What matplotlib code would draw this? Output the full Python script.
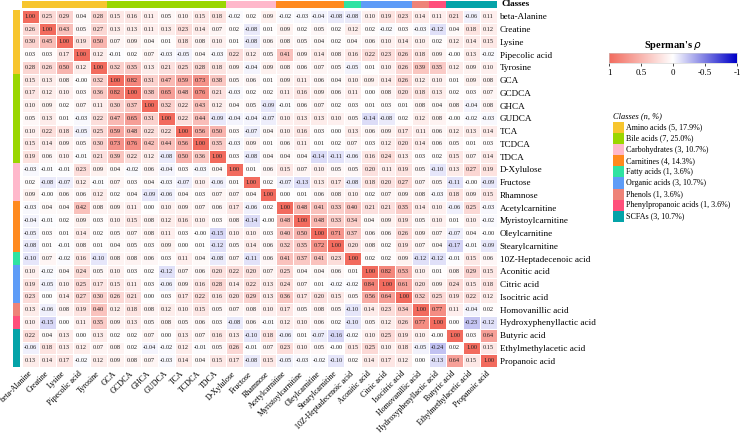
import numpy as np
import matplotlib
matplotlib.use("Agg")
import matplotlib.pyplot as plt
from matplotlib.colors import LinearSegmentedColormap, ListedColormap
from matplotlib.patches import Rectangle
from matplotlib.transforms import ScaledTranslation

plt.rcParams['font.family'] = ['Liberation Serif', 'DejaVu Serif']

names = ["beta-Alanine", "Creatine", "Lysine", "Pipecolic acid", "Tyrosine",
         "GCA", "GCDCA", "GHCA", "GUDCA", "TCA", "TCDCA", "TDCA",
         "D-Xylulose", "Fructose", "Rhamnose",
         "Acetylcarnitine", "Myristoylcarnitine", "Oleylcarnitine", "Stearylcarnitine",
         "10Z-Heptadecenoic acid",
         "Aconitic acid", "Citric acid", "Isocitric acid",
         "Homovanillic acid", "Hydroxyphenyllactic acid",
         "Butyric acid", "Ethylmethylacetic acid", "Propanoic acid"]

classes = ["Amino acids"] * 5 + ["Bile acids"] * 7 + ["Carbohydrates"] * 3 + \
          ["Carnitines"] * 4 + ["Fatty acids"] + ["Organic acids"] * 3 + \
          ["Phenols"] + ["Phenylpropanoic acids"] + ["SCFAs"] * 3

class_names = ["Amino acids", "Bile acids", "Carbohydrates", "Carnitines", "Fatty acids",
               "Organic acids", "Phenols", "Phenylpropanoic acids", "SCFAs"]
class_labels = ["Amino acids (5, 17.9%)", "Bile acids (7, 25.0%)", "Carbohydrates (3, 10.7%)",
                "Carnitines (4, 14.3%)", "Fatty acids (1, 3.6%)", "Organic acids (3, 10.7%)",
                "Phenols (1, 3.6%)", "Phenylpropanoic acids (1, 3.6%)", "SCFAs (3, 10.7%)"]
class_colors = ["#F7C52E", "#9AD600", "#FFB8CB", "#FF8A1F", "#2FE3A2",
                "#5E9CF7", "#EE8378", "#FF4F7B", "#04A3A8"]

r01 = [1.00, 0.25, 0.29, 0.04, 0.28, 0.15, 0.16, 0.11, 0.05, 0.10, 0.15, 0.18, -0.02, 0.02, 0.09, -0.02, -0.03, -0.04, -0.08, -0.08, 0.10, 0.19, 0.23, 0.14, 0.11, 0.21, -0.06, 0.11]
r02 = [0.26, 1.00, 0.43, 0.05, 0.27, 0.13, 0.13, 0.11, 0.13, 0.23, 0.14, 0.07, 0.02, -0.08, 0.01, 0.09, 0.02, 0.05, 0.02, 0.12, 0.02, -0.02, 0.03, -0.03, -0.12, 0.04, 0.18, 0.12]
r03 = [0.30, 0.45, 1.00, 0.19, 0.50, 0.07, 0.09, 0.04, 0.01, 0.18, 0.08, 0.10, 0.01, -0.08, 0.06, 0.08, 0.05, 0.04, 0.02, 0.04, 0.06, 0.10, 0.14, 0.10, 0.02, 0.12, 0.14, 0.15]
r04 = [0.03, 0.03, 0.17, 1.00, 0.12, -0.01, 0.02, 0.07, -0.03, -0.05, 0.04, -0.03, 0.22, 0.12, 0.05, 0.41, 0.09, 0.14, 0.08, 0.16, 0.22, 0.23, 0.26, 0.18, 0.09, -0.00, 0.13, -0.02]
r05 = [0.28, 0.26, 0.50, 0.12, 1.00, 0.32, 0.35, 0.13, 0.21, 0.25, 0.28, 0.18, 0.09, -0.04, 0.09, 0.08, 0.06, 0.07, 0.05, -0.05, 0.01, 0.10, 0.26, 0.39, 0.35, 0.12, 0.09, 0.10]
r06 = [0.15, 0.13, 0.08, -0.00, 0.32, 1.00, 0.82, 0.31, 0.47, 0.59, 0.73, 0.38, 0.05, 0.06, 0.01, 0.09, 0.11, 0.06, 0.04, 0.10, 0.09, 0.14, 0.26, 0.12, 0.10, 0.01, 0.09, 0.08]
r07 = [0.17, 0.12, 0.10, 0.03, 0.36, 0.82, 1.00, 0.38, 0.65, 0.48, 0.76, 0.21, -0.03, 0.02, 0.02, 0.11, 0.16, 0.09, 0.06, 0.11, 0.00, 0.08, 0.20, 0.18, 0.13, 0.02, 0.03, 0.07]
r08 = [0.10, 0.09, 0.02, 0.07, 0.11, 0.30, 0.37, 1.00, 0.32, 0.22, 0.43, 0.12, 0.04, 0.05, -0.09, -0.01, 0.06, 0.07, 0.02, 0.03, 0.01, 0.03, 0.01, 0.08, 0.04, 0.08, -0.04, 0.08]
r09 = [0.05, 0.13, 0.01, -0.03, 0.22, 0.47, 0.65, 0.31, 1.00, 0.22, 0.44, -0.09, -0.04, -0.04, -0.07, 0.10, 0.13, 0.13, 0.10, 0.05, -0.14, -0.08, 0.02, 0.12, 0.08, -0.00, -0.02, -0.03]
r10 = [0.10, 0.22, 0.18, -0.05, 0.25, 0.59, 0.48, 0.22, 0.22, 1.00, 0.56, 0.50, 0.03, -0.07, 0.04, 0.10, 0.16, 0.03, 0.00, 0.13, 0.06, 0.09, 0.17, 0.11, 0.06, 0.12, 0.13, 0.14]
r11 = [0.15, 0.14, 0.09, 0.05, 0.30, 0.73, 0.76, 0.42, 0.44, 0.56, 1.00, 0.35, -0.03, 0.09, 0.01, 0.06, 0.11, 0.01, 0.02, 0.07, 0.03, 0.12, 0.20, 0.14, 0.06, 0.05, 0.01, 0.03]
r12 = [0.19, 0.06, 0.10, -0.01, 0.21, 0.39, 0.22, 0.12, -0.08, 0.50, 0.36, 1.00, 0.03, -0.08, 0.04, 0.04, 0.04, -0.14, -0.11, -0.06, 0.16, 0.24, 0.13, 0.03, 0.02, 0.15, 0.07, 0.14]
r13 = [-0.03, -0.01, -0.01, 0.23, 0.09, 0.04, -0.02, 0.06, -0.04, 0.03, -0.03, 0.04, 1.00, 0.01, 0.06, 0.15, 0.07, 0.10, 0.05, 0.05, 0.20, 0.11, 0.19, 0.05, -0.10, 0.13, 0.27, 0.19]
r14 = [0.02, -0.08, -0.07, 0.12, -0.01, 0.07, 0.03, 0.04, -0.03, -0.07, 0.10, -0.06, 0.01, 1.00, 0.02, -0.07, -0.13, 0.13, 0.17, -0.08, 0.18, 0.20, 0.27, 0.07, 0.05, -0.11, -0.00, -0.09]
r15 = [0.09, -0.00, 0.06, 0.06, 0.12, 0.02, 0.04, -0.09, -0.06, 0.04, 0.03, 0.07, 0.07, 0.04, 1.00, 0.00, 0.01, 0.06, 0.08, 0.10, 0.02, 0.07, 0.09, 0.08, -0.03, 0.18, 0.09, 0.15]
r16 = [-0.03, 0.04, 0.04, 0.42, 0.08, 0.09, 0.11, 0.00, 0.10, 0.09, 0.07, 0.06, 0.17, -0.06, 0.02, 1.00, 0.48, 0.41, 0.33, 0.40, 0.21, 0.21, 0.35, 0.14, 0.10, -0.06, 0.25, -0.03]
r17 = [-0.04, -0.01, 0.02, 0.09, 0.03, 0.10, 0.15, 0.08, 0.12, 0.16, 0.10, 0.03, 0.08, -0.14, -0.00, 0.48, 1.00, 0.48, 0.33, 0.34, 0.04, 0.09, 0.19, 0.05, 0.10, 0.01, 0.10, -0.02]
r18 = [-0.05, 0.03, 0.01, 0.14, 0.02, 0.05, 0.07, 0.08, 0.11, 0.03, -0.00, -0.15, 0.10, 0.10, 0.03, 0.40, 0.50, 1.00, 0.71, 0.37, 0.06, 0.06, 0.26, 0.09, 0.07, -0.07, 0.04, -0.00]
r19 = [-0.08, 0.01, -0.01, 0.08, 0.01, 0.04, 0.05, 0.03, 0.09, 0.00, 0.01, -0.12, 0.05, 0.14, 0.06, 0.32, 0.35, 0.72, 1.00, 0.20, 0.08, 0.02, 0.19, 0.07, 0.04, -0.17, -0.01, -0.09]
r20 = [-0.10, 0.07, -0.02, 0.16, -0.10, 0.08, 0.08, 0.06, 0.03, 0.11, 0.04, -0.08, 0.07, -0.11, 0.06, 0.41, 0.37, 0.41, 0.23, 1.00, 0.02, 0.02, 0.09, -0.12, -0.12, -0.01, 0.15, 0.06]
r21 = [0.10, -0.02, 0.04, 0.24, 0.05, 0.10, 0.03, 0.02, -0.12, 0.07, 0.06, 0.20, 0.22, 0.20, 0.07, 0.25, 0.04, 0.04, 0.06, 0.01, 1.00, 0.82, 0.53, 0.10, 0.01, 0.08, 0.29, 0.15]
r22 = [0.19, -0.05, 0.10, 0.25, 0.17, 0.15, 0.11, 0.03, -0.06, 0.09, 0.16, 0.28, 0.14, 0.22, 0.13, 0.24, 0.07, 0.01, -0.02, -0.02, 0.84, 1.00, 0.61, 0.20, 0.09, 0.24, 0.15, 0.18]
r23 = [0.23, 0.00, 0.14, 0.27, 0.30, 0.26, 0.21, 0.00, 0.03, 0.17, 0.22, 0.16, 0.20, 0.29, 0.13, 0.36, 0.17, 0.20, 0.15, 0.05, 0.56, 0.64, 1.00, 0.32, 0.25, 0.19, 0.22, 0.12]
r24 = [0.13, -0.06, 0.08, 0.19, 0.40, 0.12, 0.18, 0.08, 0.12, 0.10, 0.15, 0.05, 0.07, 0.08, 0.10, 0.17, 0.05, 0.08, 0.05, -0.10, 0.14, 0.23, 0.34, 1.00, 0.77, 0.11, -0.04, 0.02]
r25 = [0.10, -0.15, 0.00, 0.11, 0.35, 0.09, 0.13, 0.05, 0.08, 0.05, 0.06, 0.03, -0.08, 0.06, -0.01, 0.12, 0.10, 0.06, 0.02, -0.10, 0.05, 0.12, 0.26, 0.77, 1.00, 0.00, -0.23, -0.12]
r26 = [0.22, 0.04, 0.13, 0.00, 0.13, 0.02, 0.02, 0.07, 0.00, 0.13, 0.07, 0.16, 0.13, -0.10, 0.18, -0.06, 0.01, -0.07, -0.16, -0.02, 0.10, 0.25, 0.19, 0.10, -0.00, 1.00, 0.03, 0.64]
r27 = [-0.06, 0.18, 0.13, 0.12, 0.07, 0.08, 0.02, -0.04, -0.02, 0.12, -0.01, 0.05, 0.26, -0.01, 0.07, 0.23, 0.10, 0.05, -0.00, 0.15, 0.25, 0.10, 0.18, -0.05, -0.24, 0.02, 1.00, 0.15]
r28 = [0.13, 0.14, 0.17, -0.02, 0.12, 0.09, 0.08, 0.07, -0.03, 0.14, 0.04, 0.15, 0.17, -0.08, 0.15, -0.05, -0.03, -0.02, -0.10, 0.02, 0.14, 0.17, 0.12, 0.00, -0.13, 0.64, 0.15, 1.00]

M = np.array([r01, r02, r03, r04, r05, r06, r07, r08, r09, r10, r11, r12, r13, r14,
              r15, r16, r17, r18, r19, r20, r21, r22, r23, r24, r25, r26, r27, r28])
n = len(names)

cmap = LinearSegmentedColormap.from_list("sp", [(0.0, "#0000C8"), (0.5, "#FFFFFF"), (1.0, "#F26B5E")])

W, H = 740, 436
fig = plt.figure(figsize=(W / 100, H / 100), dpi=100)

def fx(px):
    return px / W

def fy(py):
    return 1 - py / H

hx0, hx1, hy0, hy1 = 22, 497, 10, 367
ax = fig.add_axes([fx(hx0), fy(hy1), fx(hx1 - hx0), (hy1 - hy0) / H])
ax.pcolormesh(np.arange(n + 1), np.arange(n + 1), M, cmap=cmap, vmin=-1, vmax=1,
              edgecolor="white", linewidth=0.6)
ax.set_xlim(0, n)
ax.set_ylim(n, 0)
for i in range(n):
    for j in range(n):
        ax.text(j + 0.5, i + 0.5, f"{M[i, j]:.2f}", ha="center", va="center", fontsize=4.6, color="#222222")
ax.set_xticks(np.arange(n) + 0.5)
ax.set_xticklabels(names, rotation=45, ha="right", va="center", rotation_mode="anchor", fontsize=5.8)
shift = ScaledTranslation(4.5 / 100, 0, fig.dpi_scale_trans)
for lab in ax.get_xticklabels():
    lab.set_transform(lab.get_transform() + shift)
ax.yaxis.tick_right()
ax.set_yticks(np.arange(n) + 0.5)
ax.set_yticklabels(names, fontsize=6.6)
ax.tick_params(axis="y", length=0, pad=2)
ax.tick_params(axis="x", length=0, pad=4.0)
for s in ax.spines.values():
    s.set_visible(False)

cidx = [class_names.index(c) for c in classes]
ccmap = ListedColormap(class_colors)

# top annotation bar
axt = fig.add_axes([fx(hx0), fy(8), fx(hx1 - hx0), 7 / H])
axt.pcolormesh(np.arange(n + 1), [0, 1], np.array([cidx]), cmap=ccmap, vmin=-0.5, vmax=8.5)
axt.set_xlim(0, n)
axt.axis("off")
fig.text(fx(502), fy(4.5), "Classes", fontsize=6.6, fontweight="bold", va="center", ha="left")

# left annotation bar
axl = fig.add_axes([fx(13), fy(hy1), fx(7), (hy1 - hy0) / H])
axl.pcolormesh([0, 1], np.arange(n + 1), np.array([cidx]).T, cmap=ccmap, vmin=-0.5, vmax=8.5)
axl.set_ylim(n, 0)
axl.axis("off")

# colorbar
axc = fig.add_axes([fx(609), fy(63), fx(128), 10 / H])
grad = np.linspace(1, -1, 256)[None, :]
axc.imshow(grad, aspect="auto", cmap=cmap, vmin=-1, vmax=1, extent=[1, -1, 0, 1])
axc.set_xlim(1, -1)
axc.set_yticks([])
axc.set_xticks([1, 0.5, 0, -0.5, -1])
axc.set_xticklabels(["1", "0.5", "0", "-0.5", "-1"], fontsize=6.4)
axc.tick_params(axis="x", length=2, pad=2, width=0.5)
for s in axc.spines.values():
    s.set_linewidth(0.4)
    s.set_color("#cccccc")
fig.text(fx(673), fy(45), "Sperman's $\\rho$", fontsize=7.5, fontweight="bold", ha="center", va="center")

# class legend
fig.text(fx(613), fy(116.5), "Classes (n, %)", fontsize=6.0, style="italic", ha="left", va="center")
for k, (lab, col) in enumerate(zip(class_labels, class_colors)):
    yc = 127.5 + k * 11.1
    fig.patches.append(Rectangle((fx(613), fy(yc + 5.55)), fx(11), 11.1 / H, transform=fig.transFigure,
                                 facecolor=col, edgecolor="none"))
    fig.text(fx(626), fy(yc), lab, fontsize=5.8, ha="left", va="center")

fig.savefig("out.png", dpi=100)
